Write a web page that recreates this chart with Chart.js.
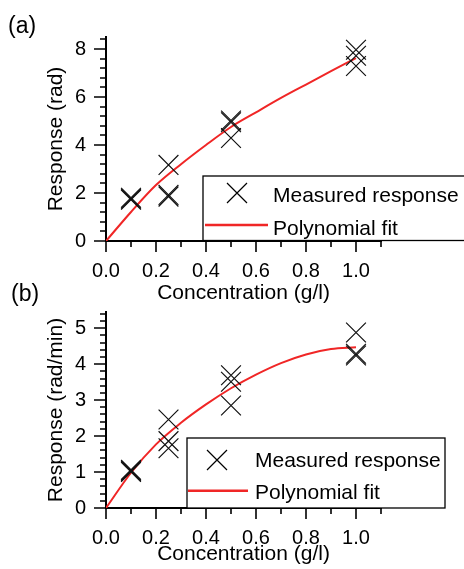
<!DOCTYPE html>
<html>
<head>
<meta charset="utf-8">
<script src="https://cdn.jsdelivr.net/npm/chart.js@4"></script>
<style>
  html, body { margin: 0; padding: 0; background: #fff; }
  #wrap { position: relative; width: 464px; height: 569px; overflow: hidden; }
  canvas { position: absolute; left: 0; }
  #chart-a { top: 0; }
  #chart-b { top: 280px; }
  .panel { position: absolute; font: 23px "Liberation Sans", Arial, sans-serif; line-height: 23px; color: #000; }
</style>
</head>
<body>
<div id="wrap">
  <canvas id="chart-a" width="464" height="306"></canvas>
  <canvas id="chart-b" width="464" height="289"></canvas>
  <div class="panel" style="left:8px; top:14px;">(a)</div>
  <div class="panel" style="left:11px; top:282px;">(b)</div>
</div>
<script>
'use strict';

// concentration of every measured sample (three replicates each)
const concentration = [0.1, 0.1, 0.1, 0.25, 0.25, 0.25, 0.5, 0.5, 0.5, 1.0, 1.0, 1.0];
// (a) response in rad
const responseA = [1.72, 1.76, 1.8, 3.17, 1.85, 1.92, 4.29, 4.95, 5.02, 7.29, 7.72, 7.97];
// (b) response in rad/min
const responseB = [1.0, 1.03, 1.06, 2.46, 1.86, 1.66, 2.85, 3.51, 3.69, 4.24, 4.29, 4.88];

// polynomial fits, every 0.1 g/l
const fitConc = [0, 0.1, 0.2, 0.3, 0.4, 0.5, 0.6, 0.7, 0.8, 0.9, 1.0];
const fitA = [0, 1.21, 2.33, 3.2, 4.0, 4.75, 5.36, 5.96, 6.52, 7.08, 7.62];
const fitB = [0, 0.98, 1.77, 2.37, 2.88, 3.33, 3.71, 4.03, 4.27, 4.42, 4.47];

// tick labels
const xTicks = [0, 0.2, 0.4, 0.6, 0.8, 1.0];
const yTicksA = [0, 2, 4, 6, 8];
const yTicksB = [0, 1, 2, 3, 4, 5];

const FONT = '"Liberation Sans", Arial, sans-serif';
const RED = 'rgb(240, 38, 38)';

Chart.defaults.font.family = FONT;
Chart.defaults.color = '#000';


// major + minor ticks drawn outside the axes
const axisTicks = {
    id: 'axisTicks',
    afterDraw(chart, args, opts) {
        const { ctx, chartArea: a, scales: { x, y } } = chart;
        ctx.save();
        ctx.strokeStyle = '#000';
        ctx.lineWidth = 1.6;
        ctx.beginPath();

        const nx = Math.round(x.max / opts.xStep);
        for (let i = 0; i <= nx; i++) {
            const v = i * opts.xStep;
            const major = x.ticks.some(t => Math.abs(t.value - v) < 1e-6);
            const px = Math.round(x.getPixelForValue(v));
            ctx.moveTo(px, a.bottom);
            ctx.lineTo(px, a.bottom + (major ? 11 : 6));
        }

        const ny = Math.floor(y.max / opts.yStep + 1e-6);
        for (let i = 0; i <= ny; i++) {
            const v = i * opts.yStep;
            const major = y.ticks.some(t => Math.abs(t.value - v) < 1e-6);
            const py = Math.round(y.getPixelForValue(v));
            ctx.moveTo(a.left, py);
            ctx.lineTo(a.left - (major ? 12 : 6), py);
        }
        ctx.stroke();
        ctx.restore();
    }
};

// framed legend placed inside the plot
const boxLegend = {
    id: 'boxLegend',
    afterDatasetsDraw(chart, args, o) {
        const ctx = chart.ctx;
        const ds = chart.data.datasets;
        const [bx, by, bw, bh] = o.box;
        ctx.save();
        ctx.fillStyle = '#fff';
        ctx.fillRect(bx, by, bw, bh);
        ctx.strokeStyle = '#000';
        ctx.lineWidth = 1.3;
        ctx.strokeRect(bx, by, bw, bh);

        // marker
        const r = 10;
        ctx.lineWidth = 1.2;
        ctx.beginPath();
        ctx.moveTo(o.markerX - r, o.row1 - r);
        ctx.lineTo(o.markerX + r, o.row1 + r);
        ctx.moveTo(o.markerX - r, o.row1 + r);
        ctx.lineTo(o.markerX + r, o.row1 - r);
        ctx.stroke();

        // line sample
        ctx.strokeStyle = ds[1].borderColor;
        ctx.lineWidth = 2.5;
        ctx.beginPath();
        ctx.moveTo(o.lineX[0], o.row2);
        ctx.lineTo(o.lineX[1], o.row2);
        ctx.stroke();

        ctx.fillStyle = '#000';
        ctx.font = '21px ' + FONT;
        ctx.textBaseline = 'alphabetic';
        ctx.fillText(ds[0].label, o.textX, o.base1);
        ctx.fillText(ds[1].label, o.textX, o.base2);
        ctx.restore();
    }
};


function makeChart(id, cfg) {
    const ctx = document.getElementById(id).getContext('2d');
    const canvasH = ctx.canvas.height;

    return new Chart(ctx, {
        type: 'scatter',
        data: {
            datasets: [{
                label: 'Measured response',
                data: concentration.map((x, i) => ({ x: x, y: cfg.measured[i] })),
                pointStyle: 'crossRot',
                pointRadius: 14,
                pointHoverRadius: 14,
                borderColor: '#111',
                backgroundColor: '#111',
                pointBorderWidth: 1.2
            }, {
                label: 'Polynomial fit',
                data: fitConc.map((x, i) => ({ x: x, y: cfg.fit[i] })),
                showLine: true,
                pointRadius: 0,
                borderColor: RED,
                borderWidth: 2,
                cubicInterpolationMode: 'monotone'
            }]
        },
        options: {
            responsive: false,
            animation: false,
            devicePixelRatio: 1,
            layout: { padding: { top: cfg.top, right: 83, left: 0, bottom: 0 } },
            plugins: {
                legend: { display: false },
                tooltip: { enabled: false },
                axisTicks: { xStep: 0.1, yStep: cfg.yStep },
                boxLegend: cfg.legend
            },
            scales: {
                x: {
                    type: 'linear',
                    min: 0,
                    max: 1.1,
                    afterBuildTicks: s => { s.ticks = xTicks.map(v => ({ value: v })); },
                    afterFit: s => { s.height = canvasH - cfg.bottom; },
                    grid: { display: false, drawTicks: false },
                    border: { display: true, color: '#000', width: 2 },
                    ticks: {
                        autoSkip: false,
                        maxRotation: 0,
                        padding: 18,
                        font: { size: 20 },
                        callback: v => v.toFixed(1)
                    },
                    title: {
                        display: true,
                        text: 'Concentration (g/l)',
                        font: { size: 21 },
                        padding: { top: 0, bottom: cfg.xTitlePad }
                    }
                },
                y: {
                    type: 'linear',
                    min: 0,
                    max: cfg.yMax,
                    afterBuildTicks: s => { s.ticks = cfg.yTicks.map(v => ({ value: v })); },
                    afterFit: s => { s.width = 106; },
                    grid: { display: false, drawTicks: false },
                    border: { display: true, color: '#000', width: 2 },
                    ticks: {
                        autoSkip: false,
                        padding: 20,
                        font: { size: 20 }
                    },
                    title: {
                        display: true,
                        text: cfg.yTitle,
                        font: { size: 21 },
                        padding: { top: 44, bottom: 0 }
                    }
                }
            }
        },
        plugins: [axisTicks, boxLegend]
    });
}


makeChart('chart-a', {
    measured: responseA,
    fit: fitA,
    yTicks: yTicksA,
    yMax: 8.5,
    yStep: 0.4,
    yTitle: 'Response (rad)',
    top: 37,
    bottom: 241,
    xTitlePad: 0,
    legend: {
        box: [203, 176, 262, 64.5],
        markerX: 237, row1: 193,
        lineX: [205, 268], row2: 225,
        textX: 273, base1: 201.5, base2: 234.5
    }
});

makeChart('chart-b', {
    measured: responseB,
    fit: fitB,
    yTicks: yTicksB,
    yMax: 5.45,
    yStep: 0.2,
    yTitle: 'Response (rad/min)',
    top: 24,
    bottom: 228,
    xTitlePad: 2,
    legend: {
        box: [187, 158, 258, 70],
        markerX: 217, row1: 180,
        lineX: [188, 248], row2: 210.7,
        textX: 255, base1: 187, base2: 218.5
    }
});
</script>
</body>
</html>
